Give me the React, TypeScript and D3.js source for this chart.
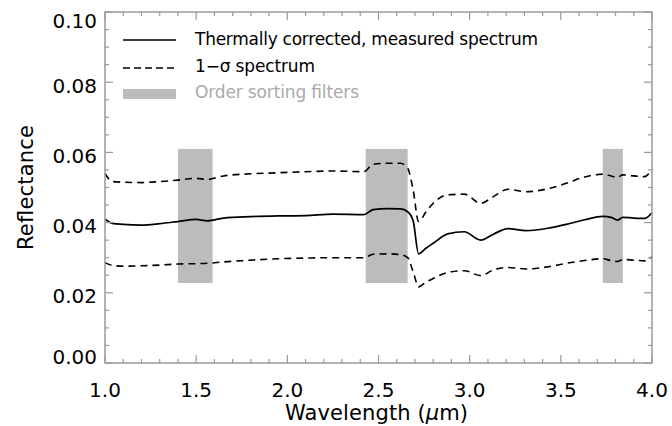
import * as d3 from "d3";

const wavelengths = [1.0, 1.04, 1.1, 1.2, 1.3, 1.4, 1.5, 1.56, 1.65, 1.8, 1.95, 2.1, 2.25, 2.42, 2.47, 2.55, 2.62, 2.66, 2.69, 2.72, 2.76, 2.8, 2.88, 2.97, 3.06, 3.13, 3.21, 3.31, 3.44, 3.53, 3.63, 3.73, 3.78, 3.81, 3.84, 3.9, 3.96, 4.0];
const measured = [0.041, 0.0398, 0.0395, 0.0393, 0.0397, 0.0403, 0.0409, 0.0405, 0.0413, 0.0417, 0.0419, 0.042, 0.0424, 0.0423, 0.0437, 0.044, 0.0439, 0.0431, 0.0405, 0.0311, 0.0327, 0.0341, 0.0368, 0.0374, 0.035, 0.0367, 0.0383, 0.0377, 0.0385, 0.0395, 0.0408, 0.0418, 0.0414, 0.0407, 0.0415, 0.0413, 0.0412, 0.0428];
const sigmaUpper = [0.054, 0.0517, 0.0515, 0.0514, 0.0517, 0.0521, 0.0526, 0.0523, 0.0533, 0.0539, 0.0542, 0.0545, 0.0547, 0.0545, 0.0566, 0.0569, 0.0569, 0.0555, 0.0493, 0.0403, 0.043, 0.0455, 0.0479, 0.0481, 0.0455, 0.0474, 0.0495, 0.0488, 0.0498, 0.0512, 0.053, 0.0538, 0.0532, 0.0529, 0.0536, 0.0533, 0.0531, 0.0552];
const sigmaLower = [0.0286, 0.0278, 0.0276, 0.0277, 0.0279, 0.0282, 0.0283, 0.0284, 0.0288, 0.0293, 0.0297, 0.0299, 0.03, 0.03, 0.031, 0.0311, 0.0309, 0.03, 0.026, 0.0217, 0.023, 0.0241, 0.0258, 0.0263, 0.0249, 0.0265, 0.0272, 0.0268, 0.0275, 0.0284, 0.0292, 0.0297, 0.0291, 0.0289, 0.0295, 0.0293, 0.0291, 0.0303];

// order sorting filter bands [start, end] in µm, and their drawn reflectance span
const filterBands = [[1.4, 1.59], [2.43, 2.66], [3.73, 3.84]];
const filterSpan = [0.0228, 0.061];

const xTicks = [1.0, 1.5, 2.0, 2.5, 3.0, 3.5, 4.0];
const yTicks = [0.0, 0.02, 0.04, 0.06, 0.08, 0.1];

const legendLabels = ["Thermally corrected, measured spectrum", "1\u2212\u03c3 spectrum", "Order sorting filters"];

const W = 672;
const H = 426;
const margin = { top: 12, right: 20, bottom: 63, left: 105 };
const FONT = "'DejaVu Sans', sans-serif";
const AXIS = "#9a9a9a";
const FILTER = "#bcbcbc";
const DASH = "7,5";

export default function App() {
  const x = d3.scaleLinear().domain([1, 4]).range([margin.left, W - margin.right]);
  const y = d3.scaleLinear().domain([0, 0.1]).range([H - margin.bottom, margin.top]);
  const x0 = x.range()[0], x1 = x.range()[1];
  const yb = y.range()[0], yt = y.range()[1];

  const line = (vals: number[]) =>
    d3.line<number>().x((_, i) => x(wavelengths[i])).y((d) => y(d)).curve(d3.curveMonotoneX)(vals) || "";

  const xMinor = d3.range(10, 41).map((v) => v / 10);
  const yMinor = d3.range(0, 21).map((v) => v * 0.005);
  const isMajorX = (v: number) => Math.abs(v * 2 - Math.round(v * 2)) < 1e-6;
  const isMajorY = (v: number) => Math.abs(v * 50 - Math.round(v * 50)) < 1e-6;

  const legendX0 = 123, legendX1 = 176, legendTextX = 195;
  const legendY = [40, 68, 94];
  const legendBase = [45, 72, 98];
  const legendLen = [343, 120, 164];

  return (
    <svg width={W} height={H} style={{ position: "absolute", left: 0, top: 0, background: "#fff" }} fontFamily={FONT}>
      {/* filters */}
      {filterBands.map(([a, b], i) => (
        <rect key={i} x={x(a)} y={y(filterSpan[1])} width={x(b) - x(a)} height={y(filterSpan[0]) - y(filterSpan[1])} fill={FILTER} />
      ))}

      {/* curves */}
      <path d={line(sigmaUpper)} fill="none" stroke="#000" strokeWidth={1.6} strokeDasharray={DASH} />
      <path d={line(sigmaLower)} fill="none" stroke="#000" strokeWidth={1.6} strokeDasharray={DASH} />
      <path d={line(measured)} fill="none" stroke="#000" strokeWidth={1.7} />

      {/* frame */}
      <rect x={x0} y={yt} width={x1 - x0} height={yb - yt} fill="none" stroke={AXIS} strokeWidth={1.5} />

      {/* x ticks (bottom + top) */}
      {xMinor.map((v, i) => {
        const len = isMajorX(v) ? 8 : 4;
        return (
          <g key={i} stroke={AXIS} strokeWidth={1.2}>
            <line x1={x(v)} x2={x(v)} y1={yb} y2={yb - len} />
            <line x1={x(v)} x2={x(v)} y1={yt} y2={yt + len} />
          </g>
        );
      })}
      {/* y ticks (left + right) */}
      {yMinor.map((v, i) => {
        const len = isMajorY(v) ? 8 : 4;
        return (
          <g key={i} stroke={AXIS} strokeWidth={1.2}>
            <line x1={x0} x2={x0 + len} y1={y(v)} y2={y(v)} />
            <line x1={x1} x2={x1 - len} y1={y(v)} y2={y(v)} />
          </g>
        );
      })}

      {/* tick labels */}
      {xTicks.map((v) => (
        <text key={v} x={x(v)} y={yb + 34} textAnchor="middle" fontSize={20} fill="#000">
          {v.toFixed(1)}
        </text>
      ))}
      {yTicks.map((v) => {
        const cy = Math.min(Math.max(y(v) + 3, yt + 8.5), yb - 7);
        return (
          <text key={v} x={97} y={cy + 7.5} textAnchor="end" fontSize={20} fill="#000">
            {v.toFixed(2)}
          </text>
        );
      })}

      {/* axis titles */}
      <text x={376.5} y={420} textAnchor="middle" fontSize={21} fill="#000" textLength={183}>
        Wavelength (<tspan fontStyle="italic">{"\u03bc"}</tspan>m)
      </text>
      <text transform={`translate(33,${(yt + yb) / 2}) rotate(-90)`} textAnchor="middle" fontSize={21} fill="#000" textLength={125}>
        Reflectance
      </text>

      {/* legend */}
      <line x1={legendX0} x2={legendX1} y1={legendY[0]} y2={legendY[0]} stroke="#000" strokeWidth={1.6} />
      <line x1={legendX0} x2={legendX1} y1={legendY[1]} y2={legendY[1]} stroke="#000" strokeWidth={1.6} strokeDasharray="7,4" />
      <line x1={legendX0} x2={legendX1} y1={legendY[2]} y2={legendY[2]} stroke={FILTER} strokeWidth={10} />
      {legendLabels.map((t, i) => (
        <text key={i} x={legendTextX} y={legendBase[i]} fontSize={17} textLength={legendLen[i]} fill={i === 2 ? "#aaaaaa" : "#000"}>
          {t}
        </text>
      ))}
    </svg>
  );
}
